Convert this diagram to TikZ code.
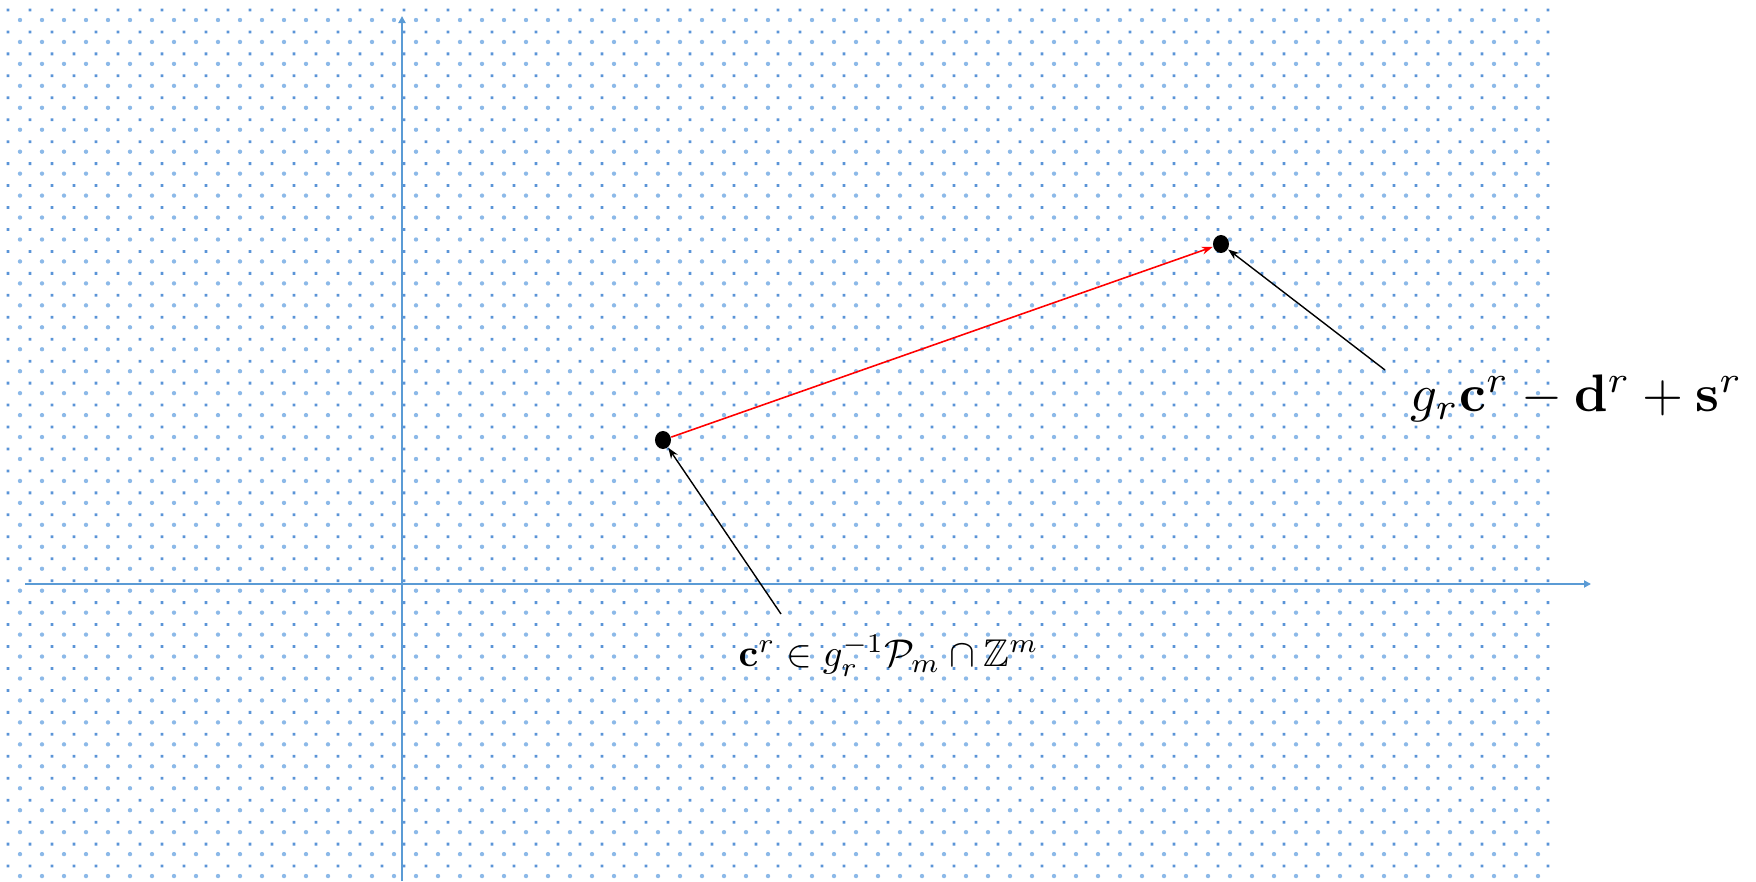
\documentclass[tikz,border=0pt]{standalone}
\usepackage{graphicx}
\usepackage{amsmath,amssymb}
\usetikzlibrary{arrows.meta,shapes.geometric}
\definecolor{axisblue}{RGB}{91,155,213}
\definecolor{dotdark}{RGB}{90,148,215}
\definecolor{dotlight}{RGB}{140,185,232}
\begin{document}
\begin{tikzpicture}[x=0.01cm,y=0.01cm,>={Stealth[length=0.11cm,width=0.08cm]}]
  \tikzset{
    axis/.style={draw=axisblue, line width=0.6pt, -{Triangle[length=0.07cm,width=0.07cm]}},
    pt/.style={ellipse, fill=black, inner sep=0pt, minimum width=0.16cm, minimum height=0.18cm},
    pointer/.style={->, black, line width=0.4pt},
    lbl/.style={inner sep=0pt, anchor=base west}
  }
  \useasboundingbox (0,0) rectangle (1756,881);
  % staggered dot background
  \fill[dotdark] \foreach \i in {0,...,70} {\foreach \j in {0,...,39} {(8+22*\i-1.4, 871-21.95*\j-1.4) rectangle ++(2.8,2.8)}};
  \fill[dotlight] \foreach \i in {0,...,69} {\foreach \j in {0,...,39} {(20+22*\i, 861-21.95*\j) circle (2.2)}};
  % axes
  \coordinate (xs) at (25,297);
  \coordinate (xe) at (1591,297);
  \coordinate (ys) at (402,0);
  \coordinate (ye) at (402,865);
  \draw[axis] (xs) -- (xe);
  \draw[axis] (ys) -- (ye);
  % points
  \node[pt] (c) at (663,441) {};
  \node[pt] (img) at (1221,637) {};
  \draw[->, red, line width=0.45pt] (c) -- (img);
  % labels
  \node[lbl] (imglbl) at (1410,469) {\scalebox{1.5}{$g_r\mathbf{c}^r-\mathbf{d}^r+\mathbf{s}^r$}};
  \node[lbl] (clbl) at (738,214) {\scalebox{1.1}{$\mathbf{c}^r\in g_r^{-1}\mathcal{P}_m\cap\mathbb{Z}^m$}};
  \coordinate (ctail) at (781,267);
  \coordinate (imgtail) at (1385,511);
  \draw[pointer] (ctail) -- (c);
  \draw[pointer] (imgtail) -- (img);
\end{tikzpicture}
\end{document}
